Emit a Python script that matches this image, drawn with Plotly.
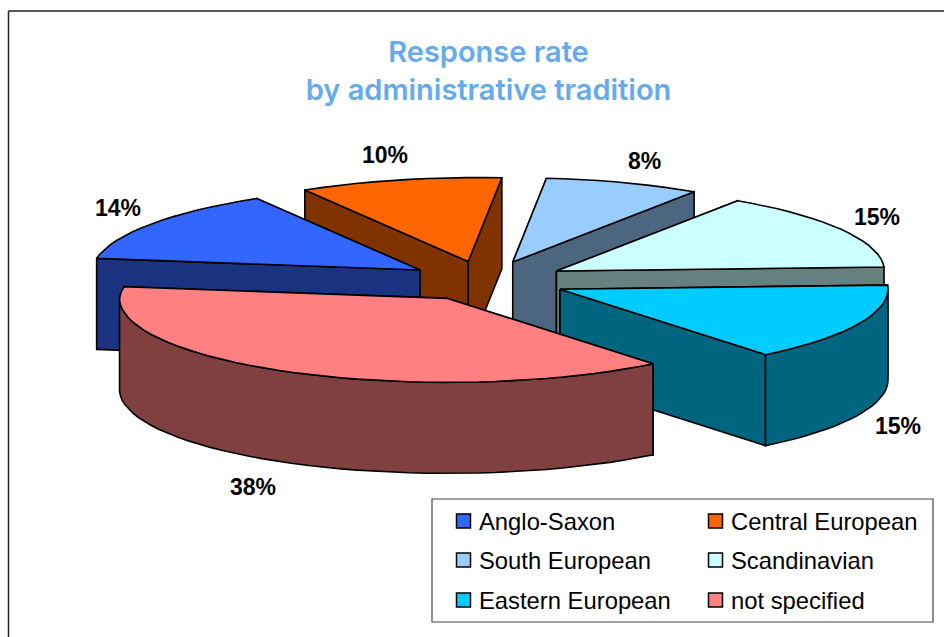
import math
import plotly.graph_objects as go

# ---- data ----
categories = ["Anglo-Saxon", "Central European", "South European",
              "Scandinavian", "Eastern European", "not specified"]
shares = [14, 10, 8, 15, 15, 38]
top_colors = ["#3366FF", "#FF6600", "#99CCFF", "#CCFFFF", "#00CCFF", "#FF8080"]
wall_colors = ["#1A3380", "#803300", "#4D6680", "#668080", "#006680", "#804040"]
title_text = "Response rate<br>by administrative tradition"

# ---- pie geometry (plot units equal page pixels) ----
CX, CY = 487, 281        # pie centre
RX, RY = 328, 84         # ellipse radii of the pie top
DEPTH = 91               # thickness of the pie
EX, EY = 80, 20          # explosion distance along each slice's bisector
LEAN = 10                # the far left part of the pie leans right
START = 188              # first slice start, degrees clockwise
LABEL_POS = [(118, 208), (385, 155), (644, 161), (877, 217), (898, 426), (253, 487)]
LEGEND_X = [463.5, 715.5]
LEGEND_Y = [521, 560, 600]
LEGEND_TEXT_DX = 13
BOX = (432, 499, 933, 622)


def rim(t):
    r = math.radians(t)
    c, s = math.cos(r), math.sin(r)
    return (RX * c + LEAN * max(0.0, -s) * (1 - max(0.0, c)) ** 2, RY * s)


fig = go.Figure()


def poly(xs, ys, color):
    fig.add_trace(go.Scatter(
        x=xs + xs[:1], y=ys + ys[:1], mode="lines", fill="toself", fillcolor=color,
        line=dict(color="black", width=1.6), hoverinfo="skip", showlegend=False))


total = sum(shares)
spans = []
a = START
for s in shares:
    spans.append((a, a + 360 * s / total))
    a += 360 * s / total

# painter's order: far slices first
for i in [2, 1, 0, 3, 4, 5]:
    t0, t1 = spans[i]
    mid = math.radians((t0 + t1) / 2)
    ax = CX + EX * math.cos(mid)
    ay = CY + EY * math.sin(mid)
    n = max(2, int((t1 - t0) / 3))
    ts = [t0 + (t1 - t0) * k / n for k in range(n + 1)]
    arc = [rim(t) for t in ts]
    ax_arc = [ax + p[0] for p in arc]
    ay_arc = [ay + p[1] for p in arc]
    # radial walls, the one whose rim end is nearer the viewer last
    ends = sorted([(ay_arc[0], ax_arc[0]), (ay_arc[-1], ax_arc[-1])])
    for py, px in ends:
        poly([ax, px, px, ax], [ay, py, py + DEPTH, ay + DEPTH], wall_colors[i])
    # outer wall, only the part facing the viewer
    front = [(x, y) for x, y, t in zip(ax_arc, ay_arc, ts) if 0 <= (t % 360) <= 180]
    if len(front) > 1:
        fx = [p[0] for p in front]
        fy = [p[1] for p in front]
        poly(fx + fx[::-1], fy + [y + DEPTH for y in fy[::-1]], wall_colors[i])
    # top face
    poly([ax] + ax_arc, [ay] + ay_arc, top_colors[i])

# percentage labels
annotations = []
for (x, y), s in zip(LABEL_POS, shares):
    annotations.append(dict(x=x, y=y, xref="x", yref="y", text=f"<b>{s}%</b>", showarrow=False,
                            font=dict(family="Liberation Sans", size=23, color="black")))

# legend
for k, (name, color) in enumerate(zip(categories, top_colors)):
    lx, ly = LEGEND_X[k % 2], LEGEND_Y[k // 2]
    fig.add_trace(go.Scatter(x=[lx], y=[ly], mode="markers", showlegend=False, hoverinfo="skip",
                             marker=dict(symbol="square", size=14, color=color,
                                         line=dict(color="black", width=1.5))))
    annotations.append(dict(x=lx + LEGEND_TEXT_DX, y=ly, xref="x", yref="y", text=name,
                            showarrow=False, xanchor="left",
                            font=dict(family="Liberation Sans", size=23.8, color="black")))

shapes = [
    dict(type="rect", xref="x", yref="y", x0=BOX[0], y0=BOX[1], x1=BOX[2], y1=BOX[3],
         line=dict(color="#444444", width=1.2), fillcolor="white", layer="below"),
    dict(type="line", xref="x", yref="y", x0=8.5, y0=11, x1=944, y1=11, line=dict(color="#222222", width=1.5)),
    dict(type="line", xref="x", yref="y", x0=8.5, y0=11, x1=8.5, y1=637, line=dict(color="#222222", width=1.5)),
]

fig.update_layout(
    width=944, height=637, margin=dict(l=0, r=0, t=0, b=0),
    paper_bgcolor="white", plot_bgcolor="white", showlegend=False,
    title=dict(text=title_text, x=488.5 / 944, xanchor="center", y=1 - 62 / 637, yanchor="middle",
               font=dict(family="Inter", size=29, weight=600, color="#66AAEE")),
    xaxis=dict(range=[0, 944], visible=False, fixedrange=True),
    yaxis=dict(range=[637, 0], visible=False, fixedrange=True),
    annotations=annotations, shapes=shapes,
)
fig.write_html("out.html", config=dict(displayModeBar=False),
               post_script="document.body.style.margin='0';document.body.style.overflow='hidden';")
